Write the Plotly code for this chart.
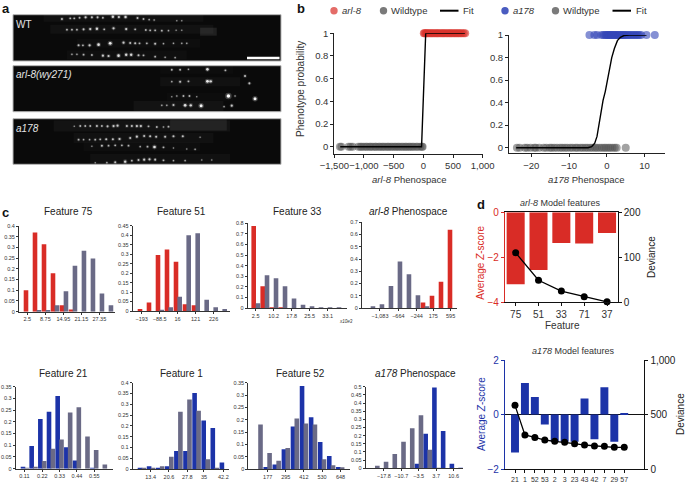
import plotly.graph_objects as go

W, H = 685, 482
RED = "#d92c26"; GREY = "#6a6a86"; BLUE = "#1c33a8"; DOT_GREY = "#6e6e6e"
FONT = "Liberation Sans"

# ---------- panel a: spots (image x, image y, brightness)
wt_x = [185,210,222,238,256,275,292,308,338,356,376,412,430,447,462,530,545,
        200,215,230,250,270,290,312,340,378,405,437,450,465,485,505,528,545,
        235,248,268,295,330,370,390,405,418,440,465,490,520,545,560,
        215,230,250,275,308,325,355,378,393,415,430,465,495,525]
wt_y = [57,55,55,53,52,52,52,53,50,51,51,54,57,59,60,62,62,
        89,89,89,88,87,86,88,85,87,88,90,91,91,92,92,91,91,
        136,136,136,134,130,128,129,130,130,130,131,131,130,130,130,
        163,163,164,165,167,168,167,164,164,166,166,170,172,173]
wt_b = [.6,.5,.5,.5,.7,.6,.6,.5,.8,.7,.8,.6,.5,.4,.4,.3,.3,
        .5,.5,.5,.6,.7,.8,.5,.7,.7,.5,.5,.5,.5,.5,.4,.3,.3,
        .6,.5,.7,.9,1,.7,.6,.6,.5,.5,.6,.4,.4,.4,.4,
        .4,.4,.5,.5,.7,.7,.9,.8,.8,.6,.5,.5,.4,.4]
arl_x = [515,540,565,622,676,735,748,515,540,565,622,632,515,530,550,568,590,685,705,765,485,500,520,555,572,603,672,695]
arl_y = [209,209,208,208,211,228,250,245,245,244,244,244,290,288,288,288,290,288,288,296,316,316,315,316,316,317,320,317]
arl_b = [.5,.5,.4,.9,.5,.6,.6,.4,.6,.5,1,.8,.3,.4,.5,.5,.3,1.4,.4,1.1,.4,.4,.6,.9,.8,1.1,.4,.7]
a178_x = [222,240,255,270,290,305,322,340,352,380,395,410,422,445,470,490,505,
          235,250,268,285,300,318,338,358,390,410,432,450,468,495,520,548,600,
          275,305,325,345,365,385,420,442,463,490,520,560,585,
          285,320,345,375,395,415,432,448,465,490,520,555,605,635]
a178_y = [379,378,378,378,378,378,379,378,377,378,378,378,378,379,381,381,380,
          419,419,419,419,418,418,418,417,414,410,408,409,410,410,409,409,412,
          439,437,437,436,436,437,440,440,441,442,444,447,448,
          488,488,487,485,482,480,479,478,479,481,482,482,480,480]
a178_b = [.3,.5,.5,.5,.6,.5,.6,.7,.7,.6,.6,.7,.7,.5,.5,.4,.5,
          .5,.4,.4,.5,.5,.6,.6,.7,.6,.7,.6,.6,.6,.6,.6,.6,.3,
          .3,.6,.5,.5,.5,.5,.4,.5,.9,.5,.3,.3,.4,
          .3,.4,.6,.8,.5,.6,.7,.7,.6,.5,.4,.4,.3,.3]

# ---------- panel b
arl8_wt_x = [-1405,-1380,-1260,-1225,-1190,-1095,-1062,-1038,-1004,-968,-945,-905,-884,-850,-812,-795,-752,-731,
             -695,-672,-640,-604,-585,-548,-522,-487,-462,-428,-405,-368,-342,-305,-284,-246,-222,-188,-162,-120,-95,-52,-24,-12]
arl8_x = [8,22,40,55,72,95,118,136,160,182,205,228,246,270,295,318,340,362,388,410,435,458,480,505,530,552,578,600,625,650,680,705]
arl8_fit_x = [-1400,-30,40,700]
arl8_fit_y = [0,0,1,1]
a178_wt_x = [-23.8,-23.1,-21.7,-21.1,-20.2,-19.2,-18.8,-17.9,-16.7,-16.0,-15.1,-14.6,-13.9,-13.2,-12.4,-11.8,-11.1,
             -10.5,-9.7,-9.1,-8.3,-7.8,-7.0,-6.4,-5.7,-5.1,-4.4,-3.8,-3.1,-2.6,-1.9,-1.3,-0.7,-0.2,0.4,0.9,1.5,2.1,2.6,5.0]
a178_pts_x = [-4.6,-3.3,-2.6,-1.4,-0.9,-0.5,-0.2,0.1,0.3,0.6,0.8,1.1,1.3,1.6,1.9,2.2,2.4,2.7,3.0,3.3,3.6,3.9,4.2,4.5,4.8,5.1,
              5.5,5.8,6.2,6.6,7.0,7.4,7.8,8.2,8.6,9.1,10.5,12.7]
a178_fit_x = [-24,-5,-4,-3.2,-2.6,-2.1,-1.5,-1.0,-0.4,0.2,0.8,1.3,2.0,2.8,3.6,4.5,6,10.5]
a178_fit_y = [0,0,0.01,0.04,0.1,0.2,0.33,0.42,0.5,0.6,0.72,0.8,0.88,0.95,0.98,0.995,1,1]

# ---------- panel c (one value per histogram bin)
f75_red  = [.1,.37,.315,.18,.03,.01,0,0,0,0]
f75_grey = [0,.005,.005,.03,.095,.215,.285,.248,.085,.03]
f75_ticks = ["2.5","8.75","14.95","21.15","27.35"]
f51_red  = [.01,.045,.295,.325,.26,.035,.03,0,0,0]
f51_grey = [0,0,.005,.02,.075,.4,.41,.06,.02,.01]
f51_ticks = ["−193","−88.5","16","121","226"]
f33_red  = [.775,.205,.003,.003,0,0,0,0,0,0]
f33_grey = [.045,.31,.28,.205,.09,.03,.008,.003,.002,.002]
f33_ticks = ["2.5","10.2","17.8","25.5","33.1"]
parl_red  = [0,0,0,0,0,0,.045,.1,.215,.64]
parl_grey = [.008,.03,.18,.38,.275,.105,.015,0,0,0]
parl_ticks = ["−1,083","−664","−244","175","595"]
f21_blue = [.005,.097,.212,.243,.31,.092,.035,0,.003,0]
f21_grey = [.003,.008,.033,.085,.125,.24,.262,.137,.08,.018]
f21_ticks = ["0.11","0.22","0.33","0.44","0.55"]
f1_blue = [.005,.013,.003,.013,.083,.083,.352,.225,.19,.03]
f1_grey = [.005,.005,.013,.057,.265,.322,.27,.045,.005,0]
f1_ticks = ["13.4","20.6","27.8","35","42.2"]
f52_blue = [0,.008,.018,.08,.172,.337,.21,.11,.053,.008]
f52_grey = [.18,.065,.033,.085,.205,.185,.18,.04,.015,.007]
f52_ticks = ["177","295","412","530","648"]
pa178_blue = [0,0,0,0,0,.028,.212,.495,.228,.028,.002]
pa178_grey = [.015,.04,.087,.162,.245,.325,.113,.003,0,0,0]
pa178_ticks = ["−17.8","−10.7","−3.5","3.7","10.6"]

# ---------- panel d
arl8_features = ["75","51","33","71","37"]
arl8_z = [-3.2,-2.56,-1.36,-1.39,-0.92]
arl8_dev = [110,49,25,12.6,1]
a178_features = ["21","1","52","53","2","3","23","43","42","7","29","57"]
a178_z = [-1.39,1.16,.64,-.37,-1.0,-1.0,-1.0,.59,-.91,1.0,-1.0,.05]
a178_dev = [584,312,290,266,254,245,232,220,211,208,199,199]

fig = go.Figure()
layout = {}
shapes, annos = [], []
n_ax = [0]

def px(x): return x / W
def py(y): return 1 - y / H

def axes(x0, x1, ytop, ybot, xopt, yopt):
    n_ax[0] += 1
    n = n_ax[0]
    s = "" if n == 1 else str(n)
    base = dict(showgrid=False, zeroline=False, fixedrange=True, automargin=False)
    layout["xaxis" + s] = {**base, "domain": [px(x0), px(x1)], "anchor": "y" + s, "tickangle": 0, **xopt}
    layout["yaxis" + s] = {**base, "domain": [py(ybot), py(ytop)], "anchor": "x" + s, **yopt}
    return "x" + s, "y" + s

def text(x, y, t, size=10, color="#222", angle=0, anchor="center", bold=False):
    annos.append(dict(x=px(x), y=py(y), xref="paper", yref="paper", text=f"<b>{t}</b>" if bold else t,
                      showarrow=False, textangle=angle, xanchor=anchor, yanchor="middle",
                      font=dict(family=FONT, size=size, color=color), borderpad=0, borderwidth=0))

# ---------- panel a
def micrograph(ytop, ybot, i0, i1, xs, ys, bs, streaks):
    xa, ya = axes(13, 281, ytop, ybot,
                  dict(range=[38, 843], visible=False), dict(range=[i1, i0], visible=False))
    shapes.append(dict(type="rect", xref="paper", yref="paper", x0=px(13), x1=px(281), y0=py(ybot), y1=py(ytop),
                       fillcolor="#0a0a0a", line=dict(color="#b5b5b5", width=1), layer="below"))
    for (a, b, y, w, c) in streaks:
        fig.add_trace(go.Scatter(x=[a, b], y=[y, y], mode="lines", xaxis=xa, yaxis=ya, hoverinfo="skip",
                                 line=dict(color=f"rgba(255,255,255,{c})", width=w), showlegend=False))
    fig.add_trace(go.Scatter(x=xs, y=ys, mode="markers", xaxis=xa, yaxis=ya, hoverinfo="skip", showlegend=False,
                             marker=dict(color="white", size=[2 + 3.2 * b for b in bs],
                                         opacity=[.22 * min(b, 1) for b in bs], line=dict(width=0))))
    fig.add_trace(go.Scatter(x=xs, y=ys, mode="markers", xaxis=xa, yaxis=ya, hoverinfo="skip", showlegend=False,
                             marker=dict(color="white", size=[.9 + 1.9 * b for b in bs],
                                         opacity=[min(.4 + .5 * b, 1) for b in bs], line=dict(width=0))))

micrograph(14.7, 61, 44, 183, wt_x, wt_y, wt_b,
           [(130,610,52,9,.03),(150,640,88,9,.035),(600,650,95,8,.09),(230,600,130,9,.02),(200,560,165,9,.025)])
micrograph(65.7, 111.7, 197, 335, arl_x, arl_y, arl_b,
           [(480,700,209,8,.015),(480,720,245,9,.03),(500,700,290,8,.015),(400,670,318,10,.04)])
micrograph(118.7, 164.3, 356, 493, a178_x, a178_y, a178_b,
           [(160,690,378,11,.04),(510,680,375,11,.07),(220,640,414,10,.03),(250,600,440,9,.02),(270,690,480,12,.03)])
shapes.append(dict(type="line", xref="paper", yref="paper", x0=px(247), x1=px(279.5), y0=py(58), y1=py(58),
                   line=dict(color="white", width=2.5)))
text(16, 24, "WT", 10, "#e4e4e4", anchor="left")
text(16, 74, "<i>arl-8(wy271)</i>", 10, "#e4e4e4", anchor="left")
text(16, 129, "<i>a178</i>", 10, "#e4e4e4", anchor="left")

# ---------- panel b
def pheno_axes(x0, x1, xr, xticks, ytop, ybot, y1px, y0px, show_title):
    lo = -(ybot - y0px) / (y0px - y1px)
    return axes(x0, x1, ytop, ybot,
                dict(range=xr, tickvals=xticks, tickformat=",", showline=True, linecolor="#222", linewidth=1,
                     ticks="outside", ticklen=3, tickcolor="#222", tickfont=dict(family=FONT, size=9.5, color="#333")),
                dict(range=[lo, 1], tickvals=[0,.2,.4,.6,.8,1], ticktext=["0","0.2","0.4","0.6","0.8","1"],
                     showline=True, linecolor="#222", linewidth=1,
                     ticks="outside", ticklen=3, tickcolor="#222", tickfont=dict(family=FONT, size=9.5, color="#333")))

def pheno(xa, ya, wt, pts, color, fx, fy):
    fig.add_trace(go.Scatter(x=wt, y=[0] * len(wt), mode="markers", name="Wildtype", xaxis=xa, yaxis=ya, cliponaxis=False,
                             showlegend=False, marker=dict(color="#555", size=8, opacity=.55, line=dict(width=0))))
    fig.add_trace(go.Scatter(x=pts, y=[1] * len(pts), mode="markers", name="mutant", xaxis=xa, yaxis=ya, cliponaxis=False,
                             showlegend=False, marker=dict(color=color, size=8, opacity=.6, line=dict(width=0))))
    fig.add_trace(go.Scatter(x=fx, y=fy, mode="lines", name="Fit", xaxis=xa, yaxis=ya, cliponaxis=False, showlegend=False,
                             line=dict(color="black", width=1.4)))

xa, ya = pheno_axes(334.3, 482.7, [-1500, 1000], [-1500,-1000,-500,0,500,1000], 33.3, 153.7, 33.3, 146.7, True)
pheno(xa, ya, arl8_wt_x, arl8_x, "#d9322c", arl8_fit_x, arl8_fit_y)
xa, ya = pheno_axes(509, 665, [-25.9, 15.4], [-20,-10,0,10], 35, 153.3, 35, 147.7, True)
pheno(xa, ya, a178_wt_x, a178_pts_x, "#3346b8", a178_fit_x, a178_fit_y)

def legend_item(x, color, label, line=False, italic=False):
    if line:
        shapes.append(dict(type="line", xref="paper", yref="paper", x0=px(x), x1=px(x + 18.5), y0=py(10.7), y1=py(10.7),
                           line=dict(color="black", width=2)))
        text(x + 23, 10.7, label, 9.5, "#333", anchor="left")
    else:
        shapes.append(dict(type="circle", xref="paper", yref="paper", x0=px(x - 3.7), x1=px(x + 3.7),
                           y0=py(10.7 + 3.7), y1=py(10.7 - 3.7), fillcolor=color, line=dict(width=0)))
        text(x + 7.5, 10.7, f"<i>{label}</i>" if italic else label, 9.5, "#333", anchor="left")

legend_item(334, "#e46c68", "arl-8", italic=True)
legend_item(383.5, "#7a7a7a", "Wildtype")
legend_item(440, None, "Fit", line=True)
legend_item(505, "#4a5cc0", "a178", italic=True)
legend_item(555.5, "#7a7a7a", "Wildtype")
legend_item(612.5, None, "Fit", line=True)
text(300, 89, "Phenotype probability", 10, "#333", angle=-90)
text(408.5, 179, "<i>arl-8</i> Phenospace", 9.5, "#333")
text(586.5, 179, "<i>a178</i> Phenospace", 9.5, "#333")

# ---------- panel c
def hist(x0, x1, ybot, ytop, ymax, dtick, c0, pitch, v1, c1, v2, c2, off1, off2, tickbins, ticktext, title, tx, ty):
    tf = dict(family=FONT, size=5.5, color="#333")
    xa, ya = axes(x0, x1, ytop, ybot,
                  dict(range=[(x0 - c0) / pitch, (x1 - c0) / pitch], tickvals=tickbins, ticktext=ticktext, showline=True,
                       linecolor="#333", linewidth=1, ticks="outside", ticklen=2, tickcolor="#333", tickfont=tf),
                  dict(range=[0, ymax], tick0=0, dtick=dtick, showline=True, linecolor="#333", linewidth=1,
                       ticks="outside", ticklen=2, tickcolor="#333", tickfont=tf))
    w = 4.6 / pitch
    for vals, col, off in ((v1, c1, off1), (v2, c2, off2)):
        fig.add_trace(go.Bar(x=list(range(len(vals))), y=vals, width=w, offset=off - w / 2, marker=dict(color=col, line=dict(width=0)),
                             xaxis=xa, yaxis=ya, showlegend=False))
    text(tx, ty, title, 10, "#222")

T1, T2 = 211.7, 373.3
P = 9.0
hist(19, 115, 311.7, 226, .4, .05, 26, P, f75_red, RED, f75_grey, GREY, 0, .44,
     [.15,2.15,4.15,6.15,8.15], f75_ticks, "Feature 75", 68, T1)
hist(132.7, 230, 311, 225.7, .45, .05, 140, P, f51_red, RED, f51_grey, GREY, 0, .41,
     [.18,2.18,4.18,6.18,8.18], f51_ticks, "Feature 51", 181, T1)
hist(247.7, 346.7, 308, 223.3, .8, .1, 253.7, P, f33_red, RED, f33_grey, GREY, 0, .48,
     [.22,2.22,4.22,6.22,8.22], f33_ticks, "Feature 33", 297, T1)
hist(362, 456.7, 308, 222.3, .7, .1, 369, P, parl_red, RED, parl_grey, GREY, 0, .44,
     [1.22,3.26,5.3,7.15,9.07], parl_ticks, "<i>arl-8</i> Phenospace", 408.7, T1)
text(345.7, 321, "<i>x10e3</i>", 4.5, "#333")
hist(15.7, 113, 468.7, 386.7, .35, .05, 23, 8.67, f21_blue, BLUE, f21_grey, GREY, 0, .44,
     [.15,2.22,4.22,6.22,8.22], f21_ticks, "Feature 21", 64, T2)
hist(132.7, 229.3, 469, 382.7, .4, .05, 140, 9.1, f1_blue, BLUE, f1_grey, GREY, 0, .44,
     [1.17,3.18,5.2,7.03,9.16], f1_ticks, "Feature 1", 181, T2)
hist(248.3, 350, 469, 382.7, .35, .05, 256.7, 9.07, f52_blue, BLUE, f52_grey, GREY, 0, .42,
     [1.21,3.2,5.2,7.2,9.25], f52_ticks, "Feature 52", 300, T2)
hist(365.7, 463, 468.3, 386.7, .5, .05, 373.3, 8.73, pa178_blue, BLUE, pa178_grey, GREY, 0, .46,
     [1.22,3.2,5.2,7.2,9.2], pa178_ticks, "<i>a178</i> Phenospace", 415, T2)

# ---------- panel d
def model(x0, x1, ytop, ybot, cats, z, dev, color, xr, barw, yr, ytv, dr, dtv, xsize, msize, top_line, zero_line):
    black = "#111"
    xa, ya = axes(x0, x1, ytop, ybot,
                  dict(type="category", range=xr, showline=True, linecolor=black, linewidth=1.2, mirror=top_line,
                       ticks="outside", ticklen=3, tickcolor=black, tickfont=dict(family=FONT, size=xsize, color="#333")),
                  dict(range=yr, tickvals=ytv, tickformat="d", showline=True, linecolor=color, linewidth=1.2, ticks="outside",
                       ticklen=3, tickcolor=color, tickfont=dict(family=FONT, size=10, color=color),
                       zeroline=zero_line, zerolinecolor=black, zerolinewidth=1.2))
    fig.add_trace(go.Bar(x=cats, y=z, width=barw, marker=dict(color=color, line=dict(width=0)), xaxis=xa, yaxis=ya, showlegend=False))
    idx = 100 + n_ax[0]
    layout["yaxis" + str(idx)] = dict(domain=layout["yaxis" + ya[1:]]["domain"], overlaying=ya, side="right", anchor=xa,
                                      range=dr, tickvals=dtv, tickformat=",", showline=True, linecolor=black, linewidth=1.2,
                                      ticks="outside", ticklen=3, tickcolor=black, showgrid=False, zeroline=False,
                                      automargin=False, fixedrange=True,
                                      tickfont=dict(family=FONT, size=10, color="#222"))
    fig.add_trace(go.Scatter(x=cats, y=dev, mode="lines+markers", xaxis=xa, yaxis="y" + str(idx), cliponaxis=False, showlegend=False,
                             line=dict(color="black", width=1.3), marker=dict(color="black", size=msize)))

model(505, 617.7, 212.3, 302.3, arl8_features, arl8_z, arl8_dev, RED, [-.467, 4.467], .79, [-4, 0], [-4,-2,0],
      [0, 200], [0,100,200], 10, 7, True, False)
model(505, 644.3, 360, 469, a178_features, a178_z, a178_dev, BLUE, [-1.007, 13.02], .8, [-2, 2], [-2,0,2],
      [0, 1000], [0,500,1000], 7, 7, False, True)
text(560, 203, "<i>arl-8</i> Model features", 9, "#333")
text(562.7, 325, "Feature", 10, "#333")
text(481, 262.7, "Average <i>Z</i>-score", 10, RED, angle=-90)
text(651, 257, "Deviance", 10, "#222", angle=-90)
text(573, 351.3, "<i>a178</i> Model features", 9, "#333")
text(481, 414, "Average <i>Z</i>-score", 10, BLUE, angle=-90)
text(680, 414, "Deviance", 10, "#222", angle=-90)

# ---------- panel letters
text(2, 8, "a", 13, "#111", anchor="left", bold=True)
text(297, 8, "b", 13, "#111", anchor="left", bold=True)
text(2, 212, "c", 13, "#111", anchor="left", bold=True)
text(477, 204, "d", 13, "#111", anchor="left", bold=True)

fig.update_layout(template="none", width=W, height=H, margin=dict(l=0, r=0, t=0, b=0), paper_bgcolor="white", plot_bgcolor="rgba(0,0,0,0)",
                  barmode="overlay", showlegend=False, shapes=shapes, annotations=annos, font=dict(family=FONT), **layout)
POST = """
document.body.style.margin='0';document.documentElement.style.overflow='hidden';
document.querySelectorAll('.subplot.xy .scatterlayer, .subplot.x2y2 .scatterlayer, .subplot.x3y3 .scatterlayer')
  .forEach(function(g){g.style.filter='blur(0.7px)';});
"""
fig.write_html("out.html", config=dict(displayModeBar=False), post_script=POST)
